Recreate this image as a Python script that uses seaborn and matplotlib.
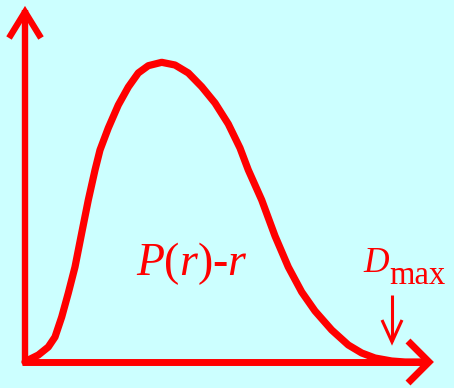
import matplotlib
matplotlib.use("Agg")
import matplotlib.pyplot as plt
import seaborn as sns
import pandas as pd

# distance r (0..Dmax=100) and P(r) (peak normalised to 100)
r_values = [0, 0.88, 3.55, 6.21, 8.0, 9.79, 11.55, 13.33, 15.12, 16.88, 18.67, 20.0,
            22.21, 24.88, 27.55, 30.21, 32.88, 36.45, 40.0, 43.55, 47.12, 50.67,
            54.21, 57.33, 59.55, 63.12, 66.67, 70.21, 73.79, 77.33, 81.79, 86.21,
            89.79, 93.33, 97.79, 101.33, 106.67]
p_values = [0, 0.67, 2.34, 5.02, 8.36, 15.05, 23.08, 31.77, 43.14, 54.18, 64.21, 70.90,
            78.26, 85.95, 91.97, 96.66, 99.10, 100.23, 99.33, 96.66, 92.07, 86.62,
            79.60, 71.57, 64.21, 54.18, 42.14, 31.77, 23.41, 17.06, 10.70, 5.69,
            3.01, 1.34, 0.33, 0.0, 0.0]
curve_label_parts = [("P", "italic"), ("(", "normal"), ("r", "italic"),
                     (")", "normal"), ("-", "normal"), ("r", "italic")]
dmax_label = "D"
dmax_sub = "max"

RED = "#FF0000"
BG = "#CCFFFF"
W, H = 454, 388
SERIF = "Liberation Serif"

sns.set_style("white")
fig = plt.figure(figsize=(W / 100, H / 100), dpi=100, facecolor=BG)
ax = fig.add_axes([0, 0, 1, 1])
ax.set_facecolor(BG)

# pixel mapping: px = 25 + 3.75*r ; py = 362 - 2.99*P
sx, sy = 3.75, 2.99
ax.set_xlim(-25 / sx, (W - 25) / sx)
ax.set_ylim((362 - H) / sy, 362 / sy)
ax.axis("off")

df = pd.DataFrame({"r": r_values, "P": p_values})
sns.lineplot(data=df, x="r", y="P", ax=ax, color=RED, linewidth=5.2,
             sort=False, estimator=None)
for l in ax.lines:
    l.set_solid_capstyle("round")
    l.set_solid_joinstyle("round")

def d(px, py):
    return ((px - 25) / sx, (362 - py) / sy)

axis_lw = 4.6
# y axis
(x0, y0), (x1, y1) = d(25, 363), d(25, 10)
ax.plot([x0, x1], [y0, y1], color=RED, lw=axis_lw, solid_capstyle="butt")
pts = [d(9, 38), d(25, 12), d(41, 38)]
ax.plot([p[0] for p in pts], [p[1] for p in pts], color=RED, lw=axis_lw,
        solid_joinstyle="miter", solid_capstyle="butt")
# x axis
(x0, y0), (x1, y1) = d(22, 362), d(428, 362)
ax.plot([x0, x1], [y0, y1], color=RED, lw=axis_lw + 0.4, solid_capstyle="butt")
pts = [d(408, 341), d(429, 362), d(408, 383)]
ax.plot([p[0] for p in pts], [p[1] for p in pts], color=RED, lw=axis_lw + 0.4,
        solid_joinstyle="miter", solid_capstyle="butt")

renderer = fig.canvas.get_renderer()

def chain(parts, px, py, size):
    """Place text pieces one after another, starting at pixel (px, py baseline)."""
    x_disp = px
    y_disp = H - py
    for txt, style in parts:
        t = fig.text(x_disp / W, y_disp / H, txt, color=RED, fontsize=size,
                     family=SERIF, style=style, ha="left", va="baseline")
        ext = t.get_window_extent(renderer=renderer)
        x_disp = ext.x1
    return x_disp

chain(curve_label_parts, 136, 275, 33)

# D_max label
t = fig.text(363 / W, (H - 272) / H, dmax_label, color=RED, fontsize=25.5,
             family=SERIF, style="italic", ha="left", va="baseline")
fig.text(389 / W, (H - 284) / H, dmax_sub, color=RED, fontsize=23.5,
         family=SERIF, ha="left", va="baseline")

# down arrow for Dmax
(x0, y0), (x1, y1) = d(392, 295), d(392, 341)
ax.plot([x0, x1], [y0, y1], color=RED, lw=2.2, solid_capstyle="butt")
pts = [d(382, 320), d(392, 342), d(402, 320)]
ax.plot([p[0] for p in pts], [p[1] for p in pts], color=RED, lw=2.2,
        solid_joinstyle="miter", solid_capstyle="butt")

fig.savefig("out.png", dpi=100, facecolor=BG)
